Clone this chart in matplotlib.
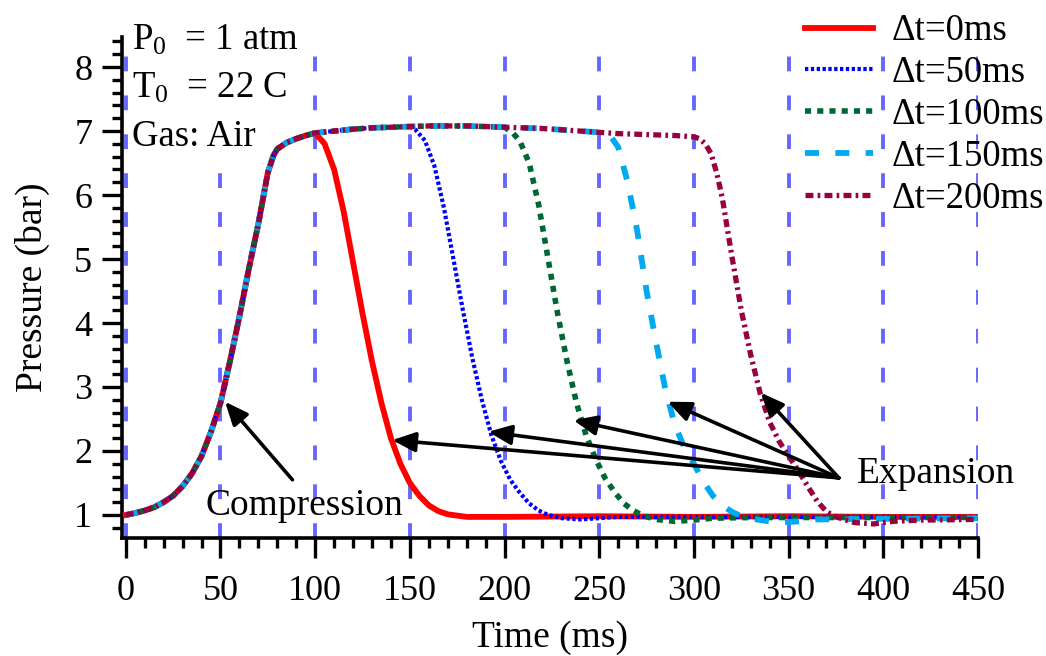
import matplotlib
matplotlib.use("Agg")
import matplotlib.pyplot as plt
from matplotlib.ticker import MultipleLocator

plt.rcParams["font.family"] = ["Liberation Serif", "DejaVu Serif"]
plt.rcParams["mathtext.fontset"] = "custom"
plt.rcParams["mathtext.rm"] = "Liberation Serif"
plt.rcParams["mathtext.default"] = "rm"

# shared compression stroke (all runs overlap)
t_comp = [0, 5, 10, 15, 20, 25, 30, 35, 40, 45, 50, 55, 60, 65, 70, 75, 78, 80, 85, 90, 95, 100]
p_comp = [1.0, 1.03, 1.07, 1.12, 1.2, 1.3, 1.45, 1.65, 1.92, 2.3, 2.75, 3.4, 4.1, 4.85, 5.55,
          6.35, 6.62, 6.72, 6.82, 6.88, 6.93, 6.97]

# shared plateau before expansion
t_plat = [110, 120, 130, 140, 150, 160, 170, 180, 190, 200, 210, 220, 230, 240, 250, 260, 270, 280, 290, 300]
p_plat = [7.0, 7.03, 7.05, 7.06, 7.07, 7.08, 7.08, 7.08, 7.07, 7.06, 7.05, 7.04, 7.02, 7.0, 6.98,
          6.96, 6.95, 6.94, 6.93, 6.91]

# expansion parts of each run
t_exp0 = [105, 110, 115, 120, 125, 130, 135, 140, 145, 150, 155, 160, 165, 170, 180, 200, 250, 300, 350, 400, 450]
p_exp0 = [6.8, 6.4, 5.75, 4.95, 4.15, 3.4, 2.75, 2.2, 1.8, 1.5, 1.3, 1.15, 1.06, 1.01, 0.97, 0.97,
          0.98, 0.97, 0.98, 0.97, 0.97]

t_exp50 = [153, 158, 163, 168, 173, 178, 183, 188, 193, 198, 203, 208, 213, 218, 223, 230, 240,
           250, 260, 300, 350, 400, 450]
p_exp50 = [7.02, 6.85, 6.45, 5.8, 5.0, 4.2, 3.45, 2.8, 2.25, 1.85, 1.55, 1.35, 1.18, 1.07, 1.0,
           0.95, 0.93, 0.95, 0.97, 0.97, 0.97, 0.97, 0.97]

t_exp100 = [204, 208, 213, 218, 223, 228, 233, 238, 243, 248, 253, 258, 263, 268, 273, 280, 290,
            300, 310, 330, 400, 450]
p_exp100 = [6.98, 6.85, 6.5, 5.85, 5.0, 4.15, 3.4, 2.75, 2.25, 1.88, 1.58, 1.36, 1.18, 1.07, 0.99,
            0.93, 0.9, 0.92, 0.95, 0.96, 0.96, 0.96]

t_exp150 = [256, 260, 265, 270, 275, 280, 285, 290, 295, 300, 305, 310, 315, 320, 325, 335, 345,
            355, 365, 400, 450]
p_exp150 = [6.92, 6.75, 6.2, 5.45, 4.5, 3.7, 2.95, 2.4, 2.05, 1.8, 1.52, 1.3, 1.15, 1.05, 0.98,
            0.92, 0.88, 0.9, 0.93, 0.94, 0.95]

t_exp200 = [303, 306, 309, 312, 315, 320, 325, 330, 335, 340, 345, 350, 355, 360, 365, 370, 375,
            385, 395, 405, 420, 450]
p_exp200 = [6.88, 6.8, 6.65, 6.35, 5.95, 5.05, 4.2, 3.5, 2.9, 2.45, 2.15, 1.92, 1.7, 1.45, 1.22,
            1.05, 0.97, 0.88, 0.86, 0.9, 0.92, 0.93]

labels = ["Δt=0ms", "Δt=50ms", "Δt=100ms", "Δt=150ms", "Δt=200ms"]
grid_x = [0, 50, 100, 150, 200, 250, 300, 350, 400, 450]


def build(t_exp, p_exp):
    t = list(t_comp)
    p = list(p_comp)
    for tt, pp in zip(t_plat, p_plat):
        if tt < t_exp[0]:
            t.append(tt)
            p.append(pp)
    return t + list(t_exp), p + list(p_exp)


runs = [build(t_exp0, p_exp0), build(t_exp50, p_exp50), build(t_exp100, p_exp100),
        build(t_exp150, p_exp150), build(t_exp200, p_exp200)]
styles = [
    dict(color="#ff0000", lw=4.2, ls="-"),
    dict(color="#0000ff", lw=3.0, ls=(0, (0.8, 0.6))),
    dict(color="#006633", lw=4.0, ls=(0, (1.1, 1.1))),
    dict(color="#00aaf0", lw=4.2, ls=(0, (2.4, 2.8))),
    dict(color="#990040", lw=3.8, ls=(0, (1.5, 0.8, 0.5, 0.8))),
]

fig = plt.figure(figsize=(10.46, 6.56), dpi=100)
ax = fig.add_axes([122 / 1046, 1 - 538 / 656, (978 - 122) / 1046, (538 - 37) / 656])

for gx in grid_x:
    ax.axvline(gx, color="#6666ff", lw=2.8, ls=(0, (3.8, 6.2)), zorder=1)

for (t, p), st, lab in zip(runs, styles, labels):
    ax.plot(t, p, label=lab, zorder=4, **st)

ax.set_xlim(-2, 450)
ax.set_ylim(0.64, 8.47)
ax.xaxis.set_major_locator(MultipleLocator(50))
ax.xaxis.set_minor_locator(MultipleLocator(10))
ax.yaxis.set_major_locator(MultipleLocator(1))
ax.yaxis.set_minor_locator(MultipleLocator(0.2))
ax.tick_params(which="major", direction="out", length=14.5, width=2.4, labelsize=26)
ax.tick_params(axis="x", which="major", pad=12)
ax.tick_params(axis="y", which="major", pad=7)
ax.tick_params(which="minor", direction="out", length=7, width=2.4)
for s in ["top", "right"]:
    ax.spines[s].set_visible(False)
for s in ["left", "bottom"]:
    ax.spines[s].set_linewidth(2.6)

ax.set_xlabel("Time (ms)", fontsize=27, labelpad=9)
ax.set_ylabel("Pressure (bar)", fontsize=27, labelpad=17)

# condition text with white background covering grid lines
ax.text(0.012, 0.766, "P$_0$  = 1 atm\nT$_0$  = 22 C\nGas: Air", transform=ax.transAxes,
        fontsize=26.5, va="bottom", ha="left", linespacing=1.52, zorder=3,
        bbox=dict(facecolor="white", edgecolor="none", pad=2))

arrow = dict(arrowstyle="-|>,head_length=1.4,head_width=0.6", color="black", lw=2.6,
             shrinkA=0, shrinkB=0)
ax.annotate("", xy=(52.4, 2.77), xytext=(88, 1.55), arrowprops=arrow, zorder=5)
ax.text(42, 1.15, "Compression", fontsize=27, va="center", ha="left", zorder=5)

heads = [(140.7, 2.17), (191.4, 2.30), (236.4, 2.48), (286.1, 2.77), (335.3, 2.91)]
for hx, hy in heads:
    ax.annotate("", xy=(hx, hy), xytext=(376.5, 1.58), arrowprops=arrow, zorder=5)
ax.text(386, 1.65, "Expansion", fontsize=27, va="center", ha="left", zorder=5)

fig.legend(loc="upper left", bbox_to_anchor=(805 / 1046, 1 - 14 / 656), frameon=False,
           fontsize=26.5, handlelength=1.85, handletextpad=0.5, labelspacing=0.2,
           borderpad=0, borderaxespad=0)

fig.savefig("out.png", dpi=100)
